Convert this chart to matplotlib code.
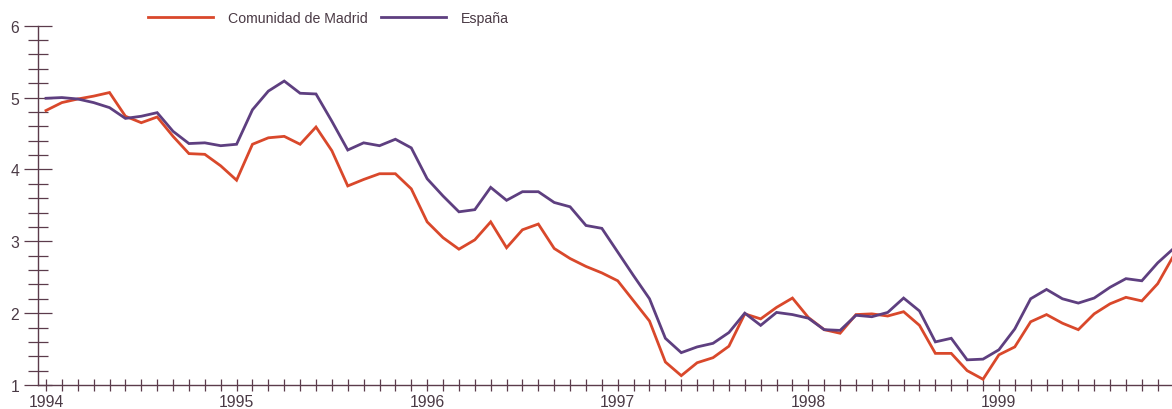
import matplotlib
matplotlib.use("Agg")
import matplotlib.pyplot as plt
from matplotlib.ticker import MultipleLocator, FixedLocator

plt.rcParams['font.family'] = ['Liberation Sans', 'DejaVu Sans']

# Monthly series, Jan 1994 .. Dec 1999
years = ["1994", "1995", "1996", "1997", "1998", "1999"]
madrid = [4.82, 4.93, 4.98, 5.02, 5.07, 4.74, 4.65, 4.73, 4.46, 4.22, 4.21, 4.05,
          3.85, 4.35, 4.44, 4.46, 4.35, 4.59, 4.26, 3.77, 3.86, 3.94, 3.94, 3.73,
          3.27, 3.05, 2.89, 3.02, 3.27, 2.91, 3.16, 3.24, 2.90, 2.76, 2.65, 2.56,
          2.45, 2.17, 1.89, 1.32, 1.13, 1.31, 1.38, 1.54, 1.99, 1.92, 2.08, 2.21,
          1.94, 1.77, 1.72, 1.98, 1.99, 1.96, 2.02, 1.83, 1.44, 1.44, 1.20, 1.08,
          1.42, 1.53, 1.88, 1.98, 1.86, 1.77, 1.99, 2.13, 2.22, 2.17, 2.41, 2.80]
espana = [4.99, 5.00, 4.98, 4.93, 4.86, 4.71, 4.74, 4.79, 4.53, 4.36, 4.37, 4.33,
          4.35, 4.83, 5.09, 5.23, 5.06, 5.05, 4.67, 4.27, 4.37, 4.33, 4.42, 4.30,
          3.87, 3.63, 3.41, 3.44, 3.75, 3.57, 3.69, 3.69, 3.54, 3.48, 3.22, 3.18,
          2.85, 2.52, 2.20, 1.65, 1.45, 1.53, 1.58, 1.73, 2.00, 1.83, 2.01, 1.98,
          1.93, 1.77, 1.76, 1.97, 1.95, 2.01, 2.21, 2.03, 1.60, 1.65, 1.35, 1.36,
          1.49, 1.78, 2.20, 2.33, 2.20, 2.14, 2.21, 2.36, 2.48, 2.45, 2.70, 2.90]
series_names = ["Comunidad de Madrid", "España"]

months = list(range(len(madrid)))
year_pos = [12 * k for k in range(len(years))]

W, H = 1172, 410
fig = plt.figure(figsize=(W / 100, H / 100), dpi=100)
ax = fig.add_axes([38 / W, 1 - 386 / H, 1 - 38 / W, (386 - 26.7) / H])

red = '#d9482b'
purple = '#5e3f80'
axc = '#5b3b4b'
txtc = '#4a3a45'

ax.plot(months, madrid, color=red, lw=2.0, label=series_names[0], solid_joinstyle='miter')
ax.plot(months, espana, color=purple, lw=2.0, label=series_names[1], solid_joinstyle='miter')

ax.set_xlim(-0.504, 70.9)
ax.set_ylim(1, 6)

for s in ['top', 'right']:
    ax.spines[s].set_visible(False)
for s in ['left', 'bottom']:
    ax.spines[s].set_color(axc)
    ax.spines[s].set_linewidth(1.0)

ax.xaxis.set_major_locator(FixedLocator(year_pos))
ax.set_xticklabels(years)
ax.xaxis.set_minor_locator(MultipleLocator(1))
ax.yaxis.set_major_locator(MultipleLocator(1))
ax.yaxis.set_minor_locator(MultipleLocator(0.2))

ax.tick_params(axis='x', which='both', direction='inout', length=8.6, width=0.9,
               color=axc, labelcolor=txtc, labelsize=11.3, pad=2.0)
ax.tick_params(axis='y', which='major', direction='inout', length=20, width=0.9,
               color=axc, labelcolor=txtc, labelsize=11.3, pad=3.5)
ax.tick_params(axis='y', which='minor', direction='inout', length=15, width=0.9,
               color=axc)

leg = ax.legend(loc='center left', bbox_to_anchor=(148 / W, 1 - 19 / H),
                bbox_transform=fig.transFigure, ncol=2, frameon=False,
                handlelength=4.6, handletextpad=1.06, columnspacing=0.92,
                borderpad=0, borderaxespad=0, prop={'size': 10.2})
for t in leg.get_texts():
    t.set_color(txtc)

fig.savefig('out.png', dpi=100)
